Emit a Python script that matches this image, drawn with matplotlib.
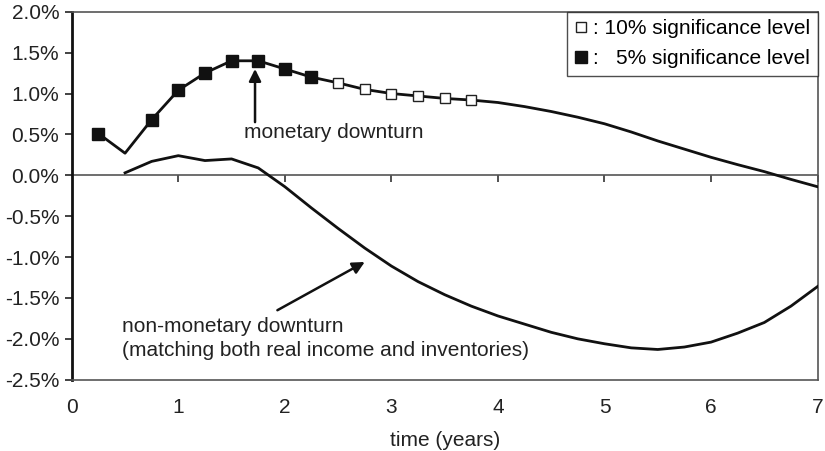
import numpy as np
import matplotlib
matplotlib.use("Agg")
import matplotlib.pyplot as plt
from matplotlib.ticker import FuncFormatter, NullFormatter

plt.rcParams['font.family'] = ['Liberation Sans', 'DejaVu Sans']

# quarterly impulse responses, in percent
t_monetary = [0.25, 0.5, 0.75, 1.0, 1.25, 1.5, 1.75, 2.0, 2.25, 2.5, 2.75, 3.0, 3.25, 3.5,
              3.75, 4.0, 4.25, 4.5, 4.75, 5.0, 5.25, 5.5, 5.75, 6.0, 6.25, 6.5, 6.75, 7.0]
monetary = [0.51, 0.27, 0.68, 1.04, 1.25, 1.40, 1.40, 1.30, 1.20, 1.13, 1.05, 1.00, 0.97, 0.94,
            0.92, 0.89, 0.84, 0.78, 0.71, 0.63, 0.53, 0.42, 0.32, 0.22, 0.13, 0.045, -0.05, -0.14]

t_nonmonetary = [0.5, 0.75, 1.0, 1.25, 1.5, 1.75, 2.0, 2.25, 2.5, 2.75, 3.0, 3.25, 3.5, 3.75,
                 4.0, 4.25, 4.5, 4.75, 5.0, 5.25, 5.5, 5.75, 6.0, 6.25, 6.5, 6.75, 7.0]
nonmonetary = [0.03, 0.17, 0.24, 0.18, 0.20, 0.09, -0.14, -0.40, -0.65, -0.89, -1.11, -1.30,
               -1.46, -1.60, -1.72, -1.82, -1.92, -2.00, -2.06, -2.11, -2.13, -2.10, -2.04,
               -1.93, -1.80, -1.60, -1.36]

# quarters where the monetary response is significant
sig5_times = [0.25, 0.75, 1.0, 1.25, 1.5, 1.75, 2.0, 2.25]
sig10_times = [2.5, 2.75, 3.0, 3.25, 3.5, 3.75]

x_ticks = [0, 1, 2, 3, 4, 5, 6, 7]
y_ticks = [2.0, 1.5, 1.0, 0.5, 0.0, -0.5, -1.0, -1.5, -2.0, -2.5]

FS = 15

fig = plt.figure(figsize=(8.25, 4.51), dpi=100)
ax = fig.add_axes([0.087, 0.158, 0.904, 0.816])

t_mon = np.array(t_monetary)
v_mon = np.array(monetary)
m5 = np.isin(t_mon, sig5_times)
m10 = np.isin(t_mon, sig10_times)

ax.axhline(0, color='#555555', lw=1.2, zorder=2)
ax.plot(t_mon, v_mon, color='#111111', lw=2.0, zorder=3)
ax.plot(t_nonmonetary, nonmonetary, color='#111111', lw=2.0, zorder=3)
h10, = ax.plot(t_mon[m10], v_mon[m10], ls='none', marker='s', ms=7.5,
               mfc='white', mec='#222222', mew=1.0, zorder=4)
h5, = ax.plot(t_mon[m5], v_mon[m5], ls='none', marker='s', ms=8,
              mfc='#111111', mec='#111111', zorder=4)

ax.set_xlim(0, 7)
ax.set_ylim(-2.5, 2.0)
ax.set_xticks(x_ticks)
ax.set_yticks(y_ticks)
ax.yaxis.set_major_formatter(FuncFormatter(lambda v, p: f"{v:.1f}%"))
ax.tick_params(axis='x', length=0, pad=13, labelsize=FS, colors='#222222')
ax.tick_params(axis='y', direction='out', length=5, width=1.2, pad=4,
               labelsize=FS, colors='#222222')

for side in ['top', 'right', 'bottom']:
    ax.spines[side].set_color('#555555')
    ax.spines[side].set_linewidth(1.2)
ax.spines['left'].set_color('#111111')
ax.spines['left'].set_linewidth(2.0)

# year ticks hanging from the zero line
zero_frac = 2.5 / 4.5
zax = ax.secondary_xaxis(zero_frac)
zax.xaxis.set_ticks_position('bottom')
zax.set_xticks(x_ticks[1:])
zax.xaxis.set_major_formatter(NullFormatter())
zax.tick_params(direction='out', length=5, width=1.2, color='#333333')
for side in zax.spines:
    zax.spines[side].set_visible(False)

ax.set_xlabel('time (years)', fontsize=FS, labelpad=10, color='#222222')

# annotations
arrow = dict(arrowstyle='-|>', color='#111111', lw=1.8, mutation_scale=18,
             shrinkA=0, shrinkB=0)
ax.annotate('', xy=(1.72, 1.30), xytext=(1.72, 0.65), arrowprops=arrow)
ax.text(1.62, 0.52, 'monetary downturn', fontsize=FS, va='center', ha='left',
        color='#222222')
ax.annotate('', xy=(2.75, -1.06), xytext=(1.93, -1.65), arrowprops=arrow)
ax.text(0.47, -2.0, 'non-monetary downturn\n(matching both real income and inventories)',
        fontsize=FS, va='center', ha='left', linespacing=1.35, color='#222222')

leg = ax.legend([h10, h5], [': 10% significance level', ':   5% significance level'],
                loc='upper right', borderaxespad=0, fontsize=FS, frameon=True,
                fancybox=False, handlelength=0.6, handletextpad=0.3,
                borderpad=0.35, labelspacing=0.55)
leg.get_frame().set_edgecolor('#222222')
leg.get_frame().set_linewidth(1.0)

fig.savefig('out.png', dpi=100)
